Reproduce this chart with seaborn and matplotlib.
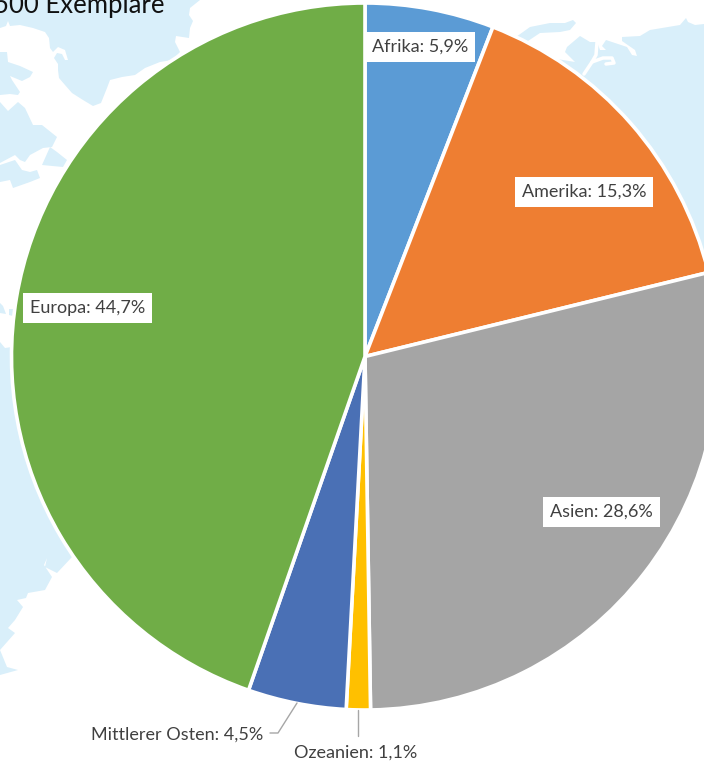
import matplotlib
matplotlib.use('Agg')
import matplotlib.pyplot as plt
import seaborn as sns

# Shares per region, clockwise from 12 o'clock
regions = ['Afrika', 'Amerika', 'Asien', 'Ozeanien', 'Mittlerer Osten', 'Europa']
shares = [5.9, 15.3, 28.6, 1.1, 4.5, 44.7]
share_labels = ['5,9%', '15,3%', '28,6%', '1,1%', '4,5%', '44,7%']
slice_colors = ['#5B9BD5', '#EE7E32', '#A5A5A5', '#FFC000', '#4A70B5', '#70AD47']

# Label anchors in picture pixels (left edge of text, middle)
label_pos = {'Afrika': (372, 47), 'Amerika': (522, 192), 'Asien': (550, 512),
             'Europa': (30, 308), 'Mittlerer Osten': (91, 735), 'Ozeanien': (294, 753)}

# Background world map outlines, picture pixels
ocean_top = [(0, 0), (200, 0), (190, 8), (189, 15), (193, 21), (190, 28), (189, 38), (176, 36), (175, 42), (180, 52),
             (172, 60), (160, 62), (145, 68), (135, 75), (122, 77), (110, 80), (107, 88), (101, 103), (93, 106),
             (83, 100), (72, 93), (65, 85), (59, 78), (58, 70), (58, 64), (54, 58), (57, 53), (62, 54), (65, 60),
             (68, 60), (65, 50), (58, 47), (53, 52), (50, 48), (49, 38), (45, 32), (33, 28), (20, 25), (10, 26),
             (8, 21), (6, 26), (0, 28)]
patch_a = [(0, 52), (7, 52), (8, 62), (20, 66), (33, 72), (30, 77), (22, 81), (10, 76), (12, 80), (20, 92), (18, 95),
           (10, 94), (0, 95)]
patch_b = [(0, 102), (8, 111), (18, 102), (25, 108), (33, 125), (42, 125), (57, 137), (52, 147), (43, 148), (30, 155),
           (25, 162), (20, 160), (15, 155), (0, 163)]
patch_c = [(50, 147), (42, 165), (63, 167), (67, 160), (57, 152)]
patch_d = [(0, 165), (15, 160), (22, 170), (30, 172), (37, 170), (40, 178), (30, 182), (13, 188), (10, 180), (0, 182)]
left_blip = [(0, 303), (3, 306), (6, 314), (0, 313)]
left_blip2 = [(9, 309), (13, 309), (13, 316), (9, 315)]
left_sea = [(0, 342), (5, 348), (12, 347), (100, 450), (72, 557), (57, 573), (45, 567), (47, 558), (44, 565), (52, 577),
            (45, 590), (28, 593), (26, 598), (17, 600), (23, 607), (15, 620), (8, 628), (15, 633), (0, 650), (7, 667),
            (18, 670), (0, 675)]
right_sea = [(704, 24), (695, 25), (688, 22), (686, 18), (680, 25), (668, 27), (650, 30), (640, 36), (622, 37), (622, 41),
             (635, 50), (637, 56), (632, 55), (627, 47), (615, 43), (606, 40), (602, 46), (606, 50), (600, 50), (597, 42),
             (590, 42), (580, 36), (567, 47), (565, 52), (575, 62), (557, 59), (640, 170), (704, 262)]
right_sea2 = [(516, 37), (530, 27), (550, 23), (565, 23), (573, 20), (576, 23), (570, 30), (560, 32), (540, 33), (525, 43)]
river_main = [(597, 42), (596, 55), (592, 62), (584, 74)]
river_arm = [(592, 62), (603, 58), (612, 58), (614, 63), (606, 64)]

sns.set_theme(style='white')
plt.rcParams['font.family'] = ['Lato', 'DejaVu Sans']

H = 762
fig, ax = plt.subplots(figsize=(7.04, 7.62), dpi=100)
fig.subplots_adjust(0, 0, 1, 1)


def flip(points):
    return [(x, H - y) for x, y in points]


for shape in [ocean_top, patch_a, patch_b, patch_c, patch_d, left_blip, left_blip2, left_sea, right_sea, right_sea2]:
    ax.fill(*zip(*flip(shape)), color='#D9EFFA', lw=0, zorder=0)
for river in [river_main, river_arm]:
    ax.plot(*zip(*flip(river)), color='white', lw=2.5, zorder=0.5)

palette = sns.color_palette(slice_colors)
wedges, _ = ax.pie(shares, colors=palette, startangle=90, counterclock=False, center=(365, H - 356.5), radius=353.5,
                   frame=True, wedgeprops={'edgecolor': 'white', 'linewidth': 2.6})
ax.set_xlim(0, 704)
ax.set_ylim(0, H)
ax.set_aspect('equal')
ax.axis('off')

for name, value in zip(regions, share_labels):
    x, y = label_pos[name]
    box = None
    if name not in ('Mittlerer Osten', 'Ozeanien'):
        box = {'facecolor': 'white', 'edgecolor': 'none', 'pad': 5}
    ax.text(x, H - y, f'{name}: {value}', fontsize=13, color='#404040', va='center', ha='left', bbox=box, zorder=5)

# Leader lines for the two outside labels
ax.plot([270, 278, 297], [H - 733, H - 733, H - 703], color='#A6A6A6', lw=1)
ax.plot([358, 358], [H - 710, H - 736], color='#A6A6A6', lw=1)

# Cut off headline from the page
ax.text(164, H - 13, '500 Exemplare', fontsize=18.5, color='#111111', va='baseline', ha='right')

fig.savefig('out.png', dpi=100)
